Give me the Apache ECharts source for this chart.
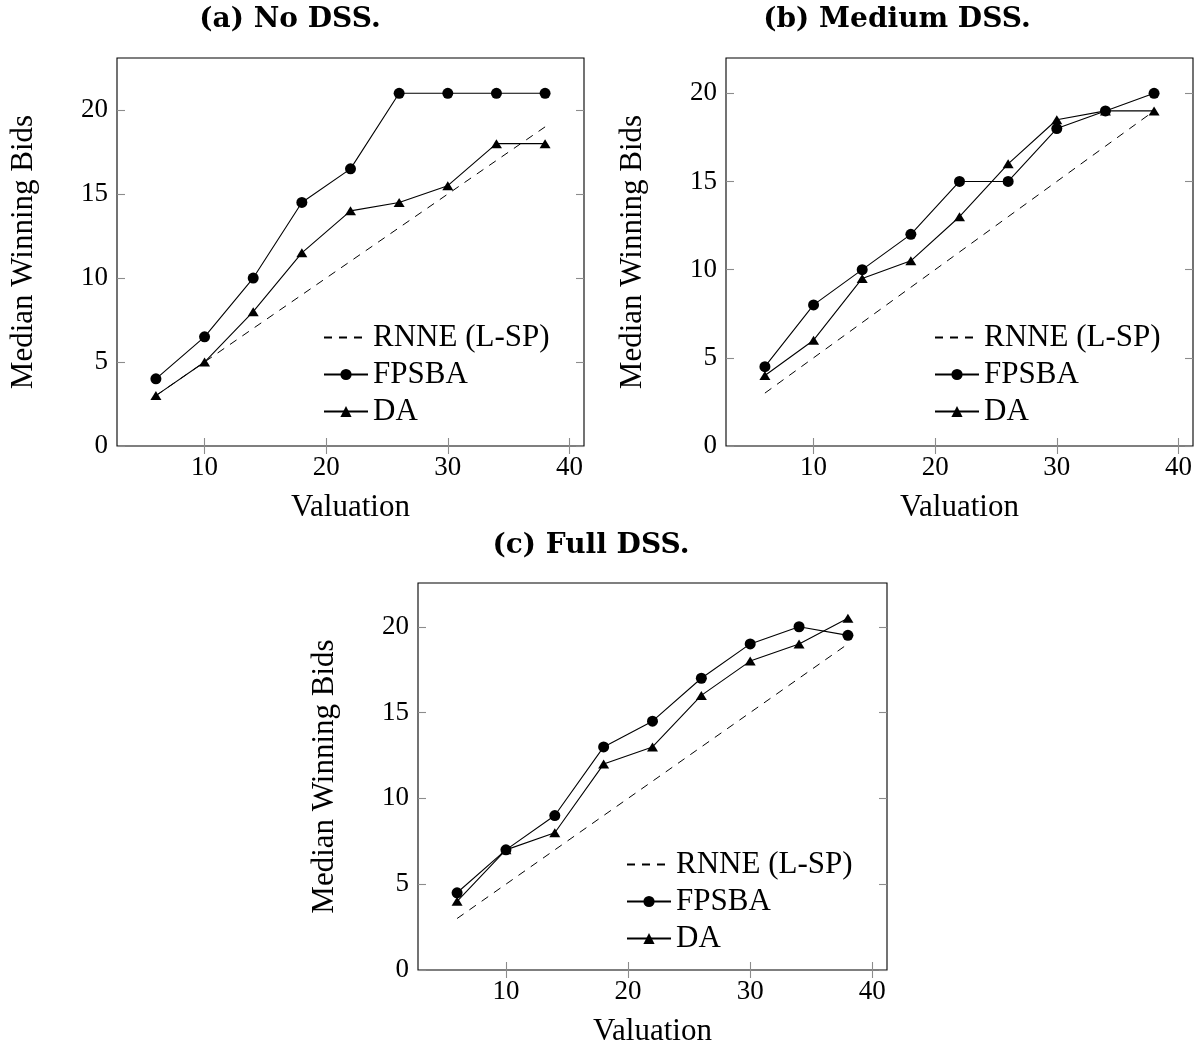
<!DOCTYPE html>
<html>
<head>
<meta charset="utf-8">
<script src="https://cdn.jsdelivr.net/npm/echarts@6/dist/echarts.min.js"></script>
<style>
html,body{margin:0;padding:0;background:#fff;}
#chart{width:1203px;height:1051px;}
</style>
</head>
<body>
<div id="chart"></div>
<script>
// ---- data ----
const valuation = [6, 10, 14, 18, 22, 26, 30, 34, 38];
const rnneLSP = [3, 5, 7, 9, 11, 13, 15, 17, 19];
const fpsbaNoDSS = [4, 6.5, 10, 14.5, 16.5, 21, 21, 21, 21];
const daNoDSS = [3, 5, 8, 11.5, 14, 14.5, 15.5, 18, 18];
const fpsbaMediumDSS = [4.5, 8, 10, 12, 15, 15, 18, 19, 20];
const daMediumDSS = [4, 6, 9.5, 10.5, 13, 16, 18.5, 19, 19];
const fpsbaFullDSS = [4.5, 7, 9, 13, 14.5, 17, 19, 20, 19.5];
const daFullDSS = [4, 7, 8, 12, 13, 16, 18, 19, 20.5];
const xTickValues = [10, 20, 30, 40];
const yTickValues = [0, 5, 10, 15, 20];
const panelTitles = ['(a) No DSS.', '(b) Medium DSS.', '(c) Full DSS.'];
const seriesNames = ['RNNE (L-SP)', 'FPSBA', 'DA'];
const xAxisTitle = 'Valuation';
const yAxisTitle = 'Median Winning Bids';

const panels = [
  { fpsba: fpsbaNoDSS, da: daNoDSS },
  { fpsba: fpsbaMediumDSS, da: daMediumDSS },
  { fpsba: fpsbaFullDSS, da: daFullDSS }
];

// ---- layout ----
const layout = [
  { grid: { left: 117, top: 58, width: 467, height: 388 }, title: [290, 20], legend: [323, 322] },
  { grid: { left: 726, top: 58, width: 467, height: 388 }, title: [897, 20], legend: [934, 322] },
  { grid: { left: 418, top: 583, width: 469, height: 387 }, title: [591, 546], legend: [626, 849] }
];

const bodyFont = '"Liberation Serif", "Times New Roman", serif';
const pairs = (ys) => valuation.map((v, i) => [v, ys[i]]);

// pgfplots-like enlargement of limits
const xMin = Math.min(...valuation), xMax = Math.max(...valuation);
const xPad = 0.1 * (xMax - xMin);

const grids = [], xAxes = [], yAxes = [], series = [], legends = [], graphics = [];

panels.forEach((p, i) => {
  const L = layout[i];
  grids.push(Object.assign({ show: true, borderColor: '#000', borderWidth: 1.1, backgroundColor: 'transparent' }, L.grid));
  const yMax = 1.1 * Math.max(...p.fpsba, ...p.da, ...rnneLSP);
  const tick = (vals) => ({ show: true, inside: true, length: 8, customValues: vals, lineStyle: { color: '#8c8c8c', width: 1.1 } });
  xAxes.push({
    type: 'value', gridIndex: i, position: 'bottom', min: xMin - xPad, max: xMax + xPad,
    axisLine: { show: false }, splitLine: { show: false },
    axisTick: tick(xTickValues),
    axisLabel: { customValues: xTickValues, margin: 8, color: '#000', fontSize: 27, fontFamily: bodyFont },
    name: xAxisTitle, nameLocation: 'middle', nameGap: 46,
    nameTextStyle: { color: '#000', fontSize: 31, fontFamily: bodyFont }
  });
  xAxes.push({
    type: 'value', gridIndex: i, position: 'top', min: xMin - xPad, max: xMax + xPad,
    axisLine: { show: false }, splitLine: { show: false },
    axisTick: tick(xTickValues), axisLabel: { show: false }
  });
  yAxes.push({
    type: 'value', gridIndex: i, position: 'left', min: 0, max: yMax,
    axisLine: { show: false }, splitLine: { show: false },
    axisTick: tick(yTickValues),
    axisLabel: { customValues: yTickValues, margin: 9, color: '#000', fontSize: 27, fontFamily: bodyFont },
    name: yAxisTitle, nameLocation: 'middle', nameGap: 78,
    nameTextStyle: { color: '#000', fontSize: 31, fontFamily: bodyFont }
  });
  yAxes.push({
    type: 'value', gridIndex: i, position: 'right', min: 0, max: yMax,
    axisLine: { show: false }, splitLine: { show: false },
    axisTick: tick(yTickValues), axisLabel: { show: false }
  });

  const xi = 2 * i, yi = 2 * i;
  series.push({
    name: seriesNames[0], type: 'line', xAxisIndex: xi, yAxisIndex: yi, data: pairs(rnneLSP),
    symbol: 'none', z: 2,
    lineStyle: { color: '#000', width: 1, type: [8, 7] }, itemStyle: { color: '#000' }
  });
  series.push({
    name: seriesNames[1], type: 'line', xAxisIndex: xi, yAxisIndex: yi, data: pairs(p.fpsba),
    symbol: 'circle', symbolSize: 11, z: 3,
    lineStyle: { color: '#000', width: 1.1 }, itemStyle: { color: '#000' }
  });
  series.push({
    name: seriesNames[2], type: 'line', xAxisIndex: xi, yAxisIndex: yi, data: pairs(p.da),
    symbol: 'triangle', symbolSize: [11, 9], z: 3,
    lineStyle: { color: '#000', width: 1.1 }, itemStyle: { color: '#000' }
  });

  legends.push({
    left: L.legend[0], top: L.legend[1], orient: 'vertical', padding: 0,
    itemWidth: 44, itemHeight: 14, itemGap: 6, selectedMode: false,
    data: [
      { name: seriesNames[0], itemStyle: { opacity: 0 } },
      { name: seriesNames[1] },
      { name: seriesNames[2] }
    ],
    textStyle: { color: '#000', fontSize: 31, lineHeight: 30, fontFamily: bodyFont }
  });

  graphics.push({
    type: 'text', x: L.title[0], y: L.title[1],
    style: { text: panelTitles[i], fill: '#000', fontSize: 28, fontWeight: 'bold',
      fontFamily: '"DejaVu Serif", serif', align: 'center', verticalAlign: 'middle' }
  });
});

const chart = echarts.init(document.getElementById('chart'), null, { renderer: 'canvas' });
chart.setOption({
  animation: false,
  backgroundColor: '#fff',
  grid: grids,
  xAxis: xAxes,
  yAxis: yAxes,
  legend: legends,
  graphic: graphics,
  series: series
});
</script>
</body>
</html>
